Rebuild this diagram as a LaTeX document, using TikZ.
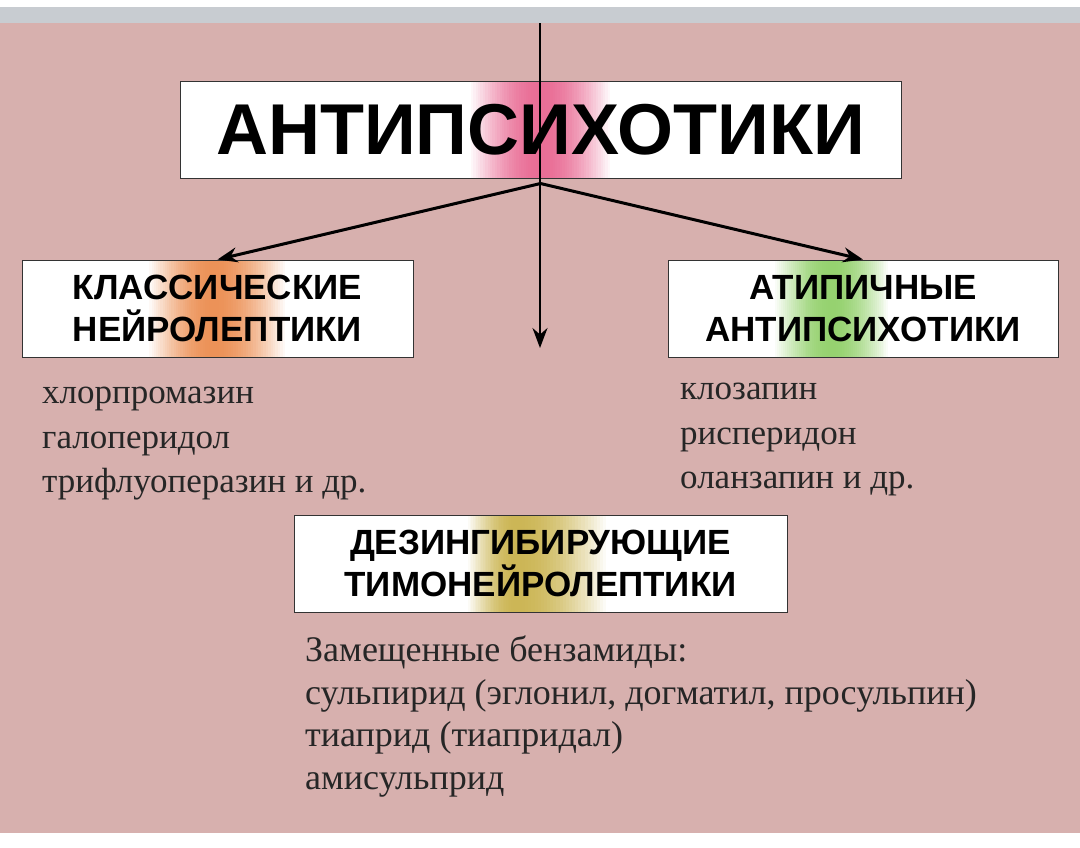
\documentclass[tikz,border=0pt]{standalone}
\usepackage{fontspec}
\setmainfont{Liberation Serif}
\setsansfont{Liberation Sans}
\usetikzlibrary{calc,arrows.meta}
\definecolor{pinkbg}{RGB}{215,176,174}
\definecolor{stripgray}{RGB}{200,204,209}
\definecolor{glowpink}{RGB}{233,110,150}
\definecolor{gloworange}{RGB}{236,146,88}
\definecolor{glowgreen}{RGB}{150,210,112}
\definecolor{glowgold}{RGB}{204,182,86}
\tikzset{
  box/.style={draw=black!80,fill=white,line width=1pt,inner sep=0pt,align=center,
    font=\sffamily\bfseries\fontsize{35}{42}\selectfont},
  % glow={colour}{left}{peak}{right}, as fractions of the box width
  glow/.style n args={4}{path picture={
    \foreach \i in {0,...,29}{
      \pgfmathsetmacro\pct{100*sin(90*\i/29)}
      \pgfmathsetmacro\fl{#2+(#3-#2)*\i/30}
      \pgfmathsetmacro\fr{#4-(#4-#3)*\i/30}
      \fill[#1!\pct!white]
        ($(path picture bounding box.south west)!\fl!(path picture bounding box.south east)$)
        rectangle
        ($(path picture bounding box.north west)!\fr!(path picture bounding box.north east)$);
    }}},
  drug/.style={anchor=north west,align=left,inner sep=0pt,text=black!85,
    font=\fontsize{35}{44.5}\selectfont},
  link/.style={line width=3pt,-{Stealth[length=20pt,width=15pt]}}
}
\begin{document}
\begin{tikzpicture}[x=1pt,y=-1pt]
% background
\fill[white] (0,0) rectangle (1080,847);
\fill[stripgray] (0,7) rectangle (1080,23);
\fill[pinkbg] (0,23) rectangle (1080,833);

% boxes
\node[box,glow={glowpink}{0.40}{0.50}{0.60},minimum width=721,minimum height=97,
  font=\sffamily\bfseries\fontsize{72}{80}\selectfont] (title) at (540.5,129.5) {АНТИПСИХОТИКИ};
\node[box,glow={gloworange}{0.32}{0.49}{0.68},minimum width=391,minimum height=97] (classic) at (217.5,308.5)
  {КЛАССИЧЕСКИЕ\\НЕЙРОЛЕПТИКИ};
\node[box,glow={glowgreen}{0.27}{0.42}{0.57},minimum width=390,minimum height=97] (atyp) at (863,308.5)
  {АТИПИЧНЫЕ\\АНТИПСИХОТИКИ};
\node[box,glow={glowgold}{0.35}{0.45}{0.64},minimum width=493,minimum height=97] (desinh) at (540.5,563.5)
  {ДЕЗИНГИБИРУЮЩИЕ\\ТИМОНЕЙРОЛЕПТИКИ};

% drug lists
\node[drug] (classlist) at (42,387) {хлорпромазин\\галоперидол\\трифлуоперазин и др.};
\node[drug] (atyplist) at (680,383) {клозапин\\рисперидон\\оланзапин и др.};
\node[drug,font=\fontsize{36}{42.5}\selectfont] (desinhlist) at (305,636)
  {Замещенные бензамиды:\\сульпирид (эглонил, догматил, просульпин)\\тиаприд (тиапридал)\\амисульприд};

% arrows
\coordinate (top) at (540,23);
\coordinate (down) at (540,348);
\coordinate (fork) at ($(title.south)+(0,5)$);
\draw[link,line width=2pt] (top) -- (down);
\draw[link] (fork) -- (classic.north);
\draw[link] (fork) -- (atyp.north);
\end{tikzpicture}
\end{document}
